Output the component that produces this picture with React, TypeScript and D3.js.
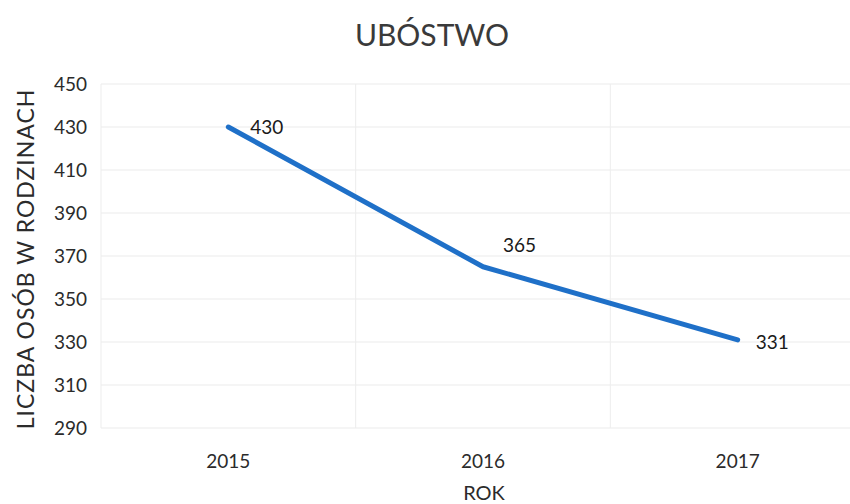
import React, { useEffect, useRef } from 'react';
import * as d3 from 'd3';

const years = ['2015', '2016', '2017'];
const people = [430, 365, 331];
const yTicks = [290, 310, 330, 350, 370, 390, 410, 430, 450];

const W = 850;
const H = 504;
const margin = { top: 84, right: -15, bottom: 76, left: 101 };
const FONT = 'Lato, "Open Sans", sans-serif';

export default function App() {
  const ref = useRef<SVGSVGElement>(null);

  useEffect(() => {
    const svg = d3.select(ref.current);
    svg.selectAll('*').remove();

    const innerW = W - margin.left - margin.right;
    const innerH = H - margin.top - margin.bottom;

    const x = d3.scaleBand().domain(years).range([0, innerW]);
    const y = d3.scaleLinear().domain([290, 450]).range([innerH, 0]);

    svg.append('rect').attr('width', W).attr('height', H).attr('fill', '#fff');

    const g = svg
      .append('g')
      .attr('transform', `translate(${margin.left}, ${margin.top})`);

    // horizontal gridlines
    g.selectAll('.hgrid')
      .data(yTicks)
      .enter()
      .append('line')
      .attr('x1', 0)
      .attr('x2', innerW)
      .attr('y1', d => y(d))
      .attr('y2', d => y(d))
      .attr('stroke', '#ebebeb')
      .attr('stroke-width', 1);

    // vertical gridlines at category edges
    const edges = years.map(d => x(d) as number).concat([innerW]);
    g.selectAll('.vgrid')
      .data(edges)
      .enter()
      .append('line')
      .attr('x1', d => d)
      .attr('x2', d => d)
      .attr('y1', 0)
      .attr('y2', innerH)
      .attr('stroke', '#ededed')
      .attr('stroke-width', 1);

    // y tick labels
    g.selectAll('.ytick')
      .data(yTicks)
      .enter()
      .append('text')
      .attr('x', -14)
      .attr('y', d => y(d))
      .attr('dy', '0.36em')
      .attr('text-anchor', 'end')
      .attr('font-family', FONT)
      .attr('font-size', 19)
      .attr('fill', '#2b2b2b')
      .text(d => d);

    // x tick labels
    g.selectAll('.xtick')
      .data(years)
      .enter()
      .append('text')
      .attr('x', d => (x(d) as number) + x.bandwidth() / 2)
      .attr('y', innerH + 33)
      .attr('dy', '0.36em')
      .attr('text-anchor', 'middle')
      .attr('font-family', FONT)
      .attr('font-size', 19)
      .attr('fill', '#2b2b2b')
      .text(d => d);

    const pts = years.map((d, i) => ({ year: d, v: people[i] }));
    const line = d3
      .line<{ year: string; v: number }>()
      .x(d => (x(d.year) as number) + x.bandwidth() / 2)
      .y(d => y(d.v));

    g.append('path')
      .datum(pts)
      .attr('d', line)
      .attr('fill', 'none')
      .attr('stroke', '#1f70c8')
      .attr('stroke-width', 5)
      .attr('stroke-linecap', 'round')
      .attr('stroke-linejoin', 'round');

    // data labels
    const offsets = [
      { dx: 22, dy: 0 },
      { dx: 20, dy: -22 },
      { dx: 18, dy: 2 },
    ];
    g.selectAll('.lbl')
      .data(pts)
      .enter()
      .append('text')
      .attr('x', (d, i) => (x(d.year) as number) + x.bandwidth() / 2 + offsets[i].dx)
      .attr('y', (d, i) => y(d.v) + offsets[i].dy)
      .attr('dy', '0.36em')
      .attr('font-family', FONT)
      .attr('font-size', 19)
      .attr('fill', '#1a1a1a')
      .text(d => d.v);

    // title
    svg
      .append('text')
      .attr('x', 432)
      .attr('y', 35)
      .attr('dy', '0.36em')
      .attr('text-anchor', 'middle')
      .attr('font-family', FONT)
      .attr('font-size', 30)
      .attr('fill', '#3a3a3a')
      .text('UBÓSTWO');

    // axis titles
    svg
      .append('text')
      .attr('x', 484)
      .attr('y', 493)
      .attr('dy', '0.36em')
      .attr('text-anchor', 'middle')
      .attr('font-family', FONT)
      .attr('font-size', 20)
      .attr('fill', '#2b2b2b')
      .text('ROK');

    svg
      .append('text')
      .attr('transform', `translate(26, 259) rotate(-90)`)
      .attr('dy', '0.36em')
      .attr('text-anchor', 'middle')
      .attr('font-family', FONT)
      .attr('font-size', 23)
      .attr('letter-spacing', 1)
      .attr('fill', '#2b2b2b')
      .text('LICZBA OSÓB W RODZINACH');
  }, []);

  return (
    <svg
      ref={ref}
      width={W}
      height={H}
      style={{ position: 'absolute', left: 0, top: 0 }}
    />
  );
}
